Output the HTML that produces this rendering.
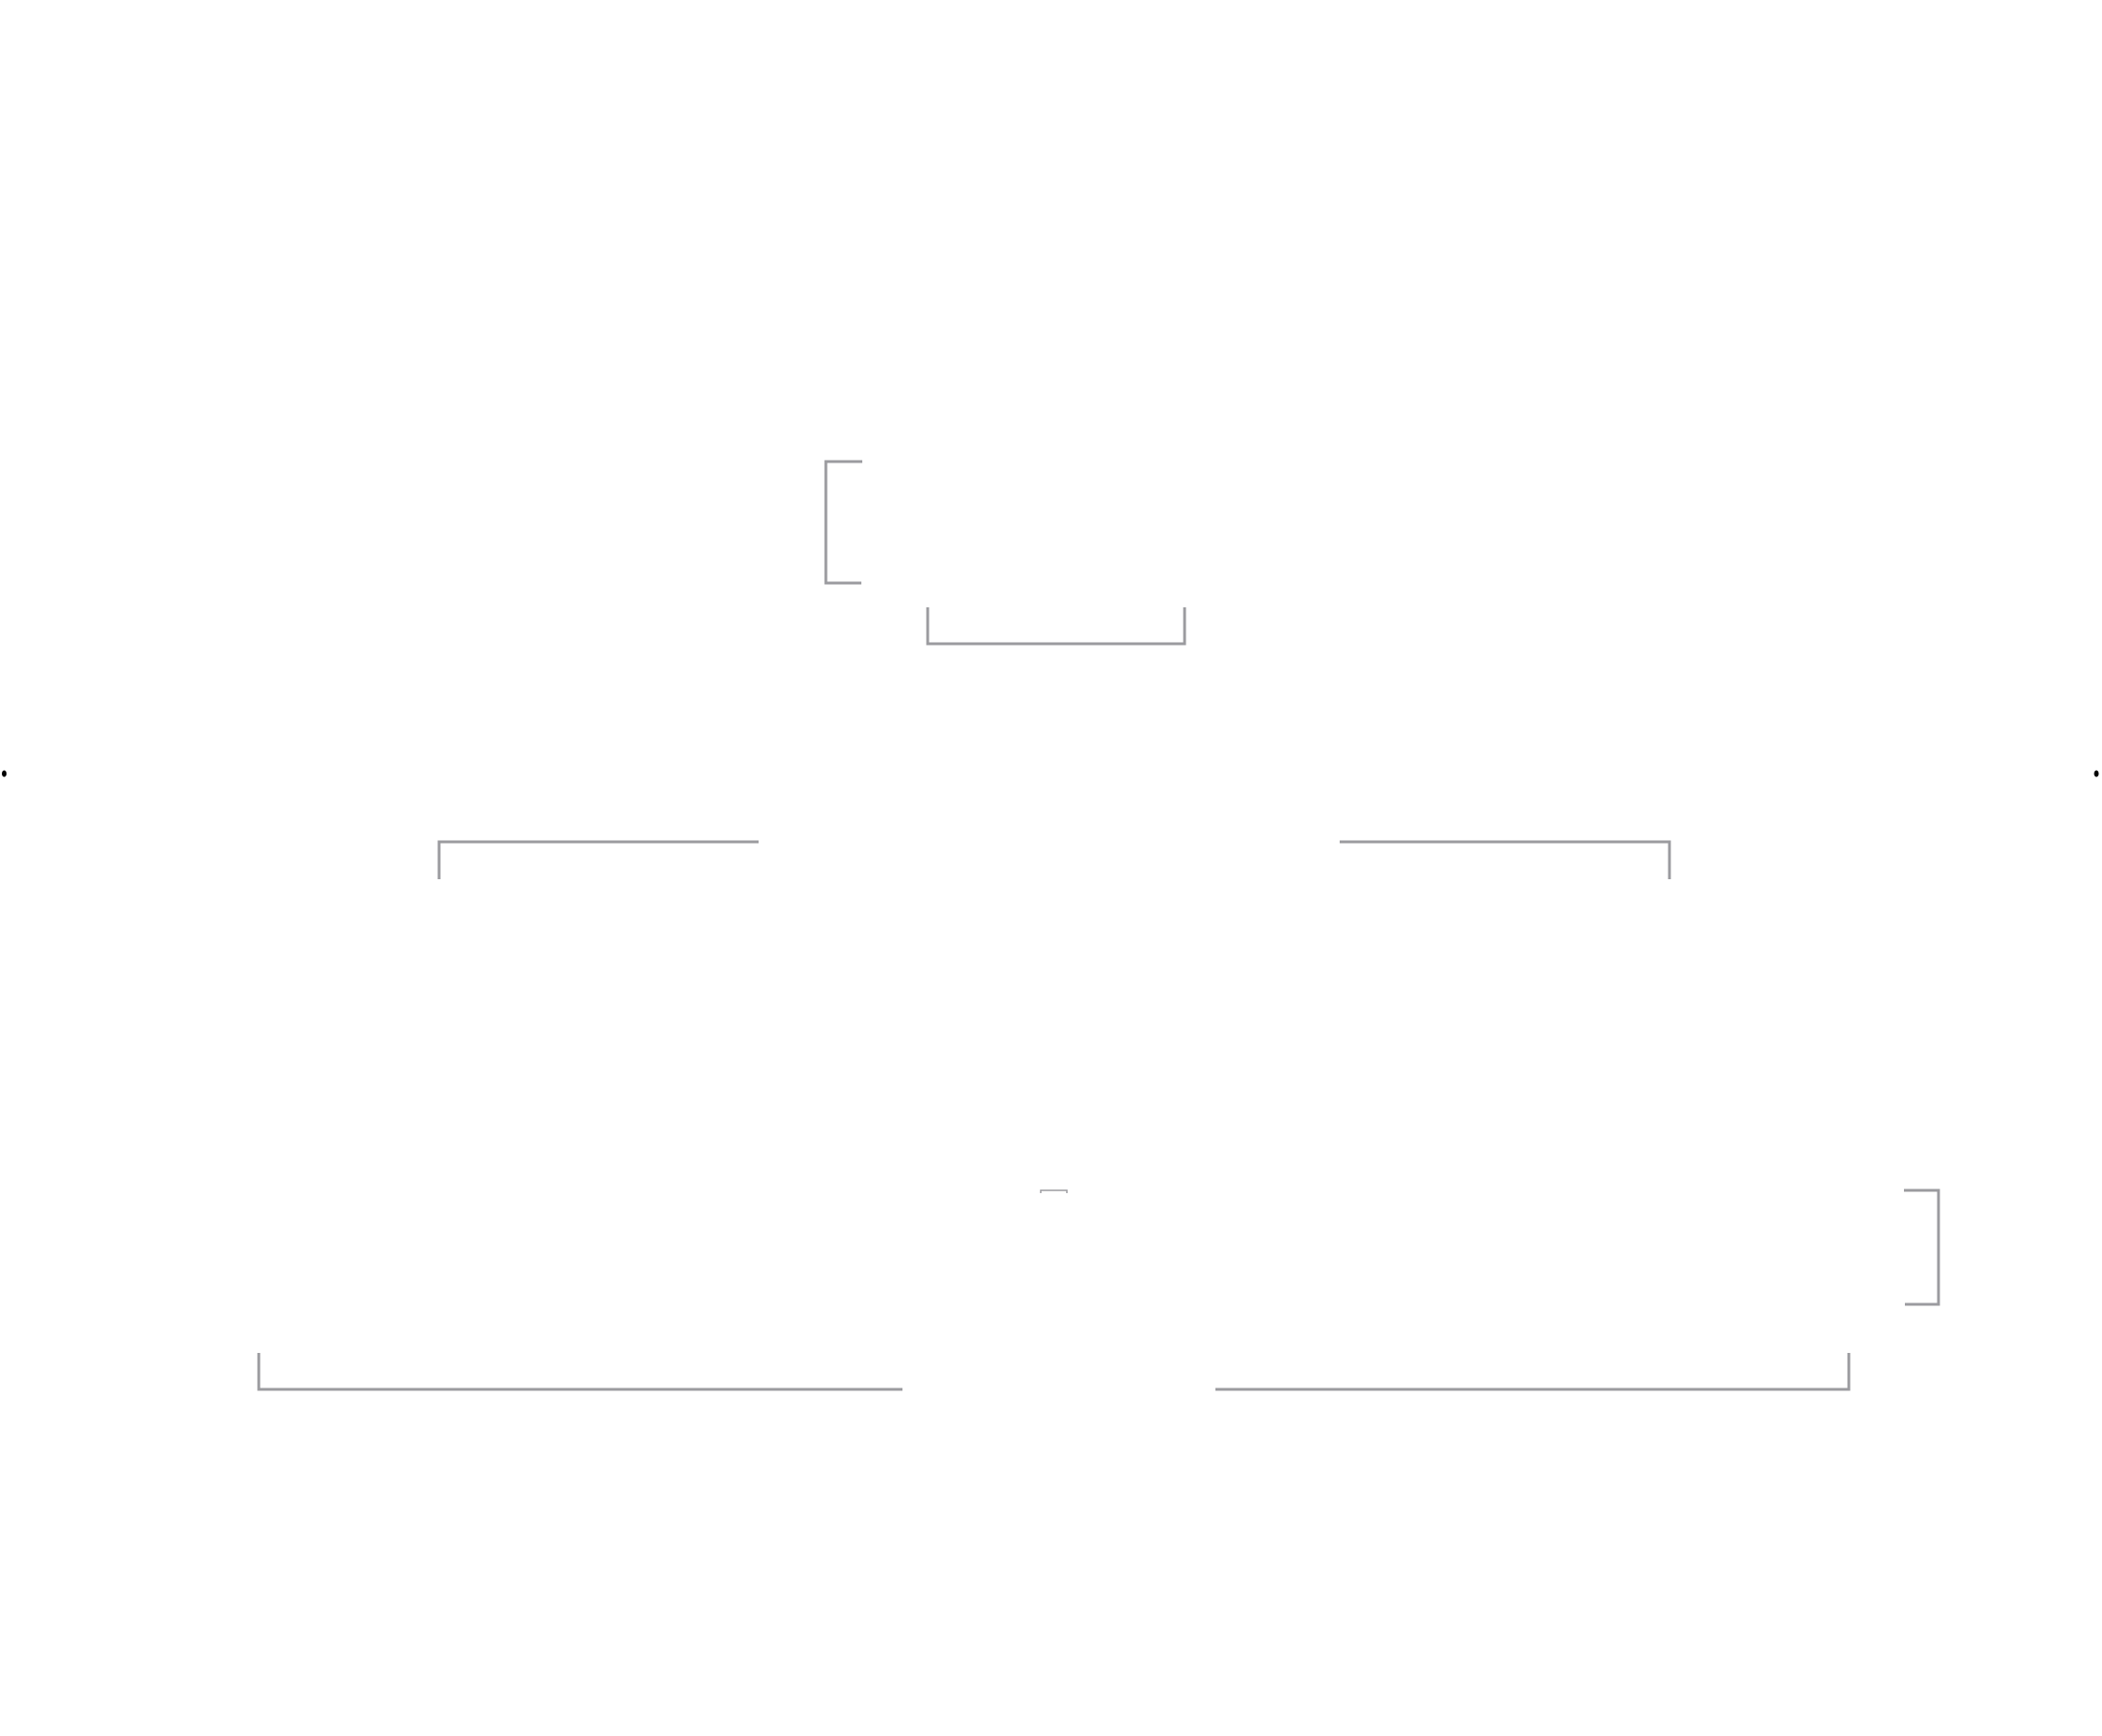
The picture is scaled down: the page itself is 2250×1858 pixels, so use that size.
<!DOCTYPE html>
<html><head><meta charset="utf-8"><style>
html,body{margin:0;padding:0;background:#fff;}
svg{display:block;}
</style></head><body>
<svg width="2250" height="1858" viewBox="0 0 2250 1858" xmlns="http://www.w3.org/2000/svg">
<rect width="2250" height="1858" fill="#fff"/>
<g fill="none" stroke="#9b9b9f" stroke-width="3">
<path d="M923,494 H884 V624 H922"/>
<path d="M993,650 V689 H1268 V650"/>
<path d="M470,941 V901 H812"/>
<path d="M1434,901 H1787 V941"/>
<path d="M2038,1274 H2075 V1396 H2039"/>
<path d="M277,1448 V1487 H966"/>
<path d="M1301,1487 H1979 V1448"/>
</g>
<path d="M1114,1277 V1274 H1142 V1277" fill="none" stroke="#9b9b9f" stroke-width="1.5"/>
<ellipse cx="4.5" cy="828" rx="2.5" ry="3.5" fill="#000"/>
<ellipse cx="2244" cy="828" rx="2.5" ry="3.5" fill="#000"/>
</svg>
</body></html>
